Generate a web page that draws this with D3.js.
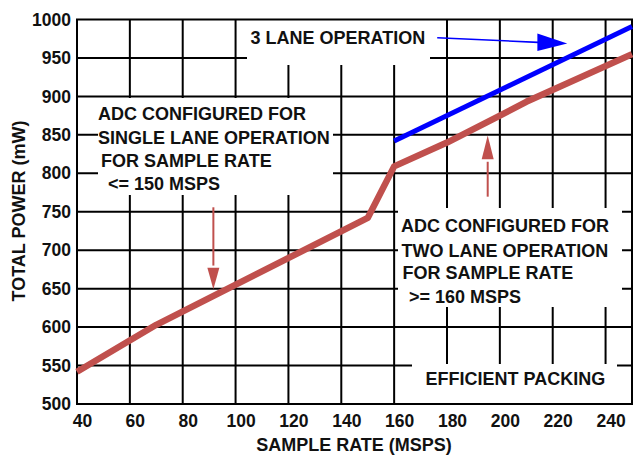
<!DOCTYPE html>
<html>
<head>
<meta charset="utf-8">
<script src="https://cdn.jsdelivr.net/npm/d3@7"></script>
<style>
  html, body { margin: 0; padding: 0; background: #fff; }
  svg { display: block; }
  text { font-family: "Liberation Sans", Arial, Helvetica, sans-serif; font-weight: bold; fill: #111; }
</style>
</head>
<body>
<svg id="chart" width="633" height="460"></svg>
<script>
// ---- data ----
const twoLaneRate  = [40, 70, 150, 160, 180, 200, 210, 250];
const twoLanePower = [542, 603, 742, 809, 840, 875, 893, 955];
const threeLaneRate  = [160, 250];
const threeLanePower = [842, 991];
const xTicks = [40, 60, 80, 100, 120, 140, 160, 180, 200, 220, 240];
const yTicks = [500, 550, 600, 650, 700, 750, 800, 850, 900, 950, 1000];
const xTitle = "SAMPLE RATE (MSPS)";
const yTitle = "TOTAL POWER (mW)";
const noteSingle = ["ADC CONFIGURED FOR", "SINGLE LANE OPERATION", "FOR SAMPLE RATE", "<= 150 MSPS"];
const noteTwo = ["ADC CONFIGURED FOR", "TWO LANE OPERATION", "FOR SAMPLE RATE", ">= 160 MSPS"];
const noteThree = "3 LANE OPERATION";
const notePacking = "EFFICIENT PACKING";

const RED = "#c0504d", BLUE = "#0000ff";
const svg = d3.select("#chart");
const x = d3.scaleLinear().domain([40, 250]).range([77, 632]);
const y = d3.scaleLinear().domain([500, 1000]).range([404, 19.5]);

// grid
const grid = svg.append("g").attr("stroke", "#000").attr("stroke-width", 2);
grid.selectAll("line.v").data(xTicks.slice(1)).join("line")
  .attr("x1", d => x(d)).attr("x2", d => x(d)).attr("y1", y(1000)).attr("y2", y(500));
grid.selectAll("line.h").data(yTicks.slice(1, -1)).join("line")
  .attr("y1", d => y(d)).attr("y2", d => y(d)).attr("x1", x(40)).attr("x2", x(250));

// white label boxes that hide the grid
const boxes = [
  {x0: 247, y0: 20, x1: 430, y1: 65},
  {x0: 98, y0: 98, x1: 333, y1: 195},
  {x0: 398, y0: 208, x1: 622, y1: 307},
  {x0: 412, y0: 364, x1: 617, y1: 404}
];
svg.append("g").selectAll("rect").data(boxes).join("rect")
  .attr("x", d => d.x0).attr("y", d => d.y0)
  .attr("width", d => d.x1 - d.x0).attr("height", d => d.y1 - d.y0)
  .attr("fill", "#fff");

// frame
svg.append("rect").attr("x", x(40)).attr("y", y(1000))
  .attr("width", x(250) - x(40)).attr("height", y(500) - y(1000))
  .attr("fill", "none").attr("stroke", "#000").attr("stroke-width", 2);

// axes labels
const xa = svg.append("g").attr("transform", `translate(5,${y(500)})`)
  .call(d3.axisBottom(x).tickValues(xTicks).tickSize(0).tickPadding(11).tickFormat(d3.format("d")));
xa.select(".domain").remove();
const ya = svg.append("g").attr("transform", `translate(${x(40)},0)`)
  .call(d3.axisLeft(y).tickValues(yTicks).tickSize(0).tickPadding(6).tickFormat(d3.format("d")));
ya.select(".domain").remove();
svg.selectAll(".tick text").style("font-size", "17.5px")
  .style("font-family", "'Liberation Sans', Arial, sans-serif").style("font-weight", "bold").attr("fill", "#111");

svg.append("text").attr("x", 354).attr("y", 451).attr("text-anchor", "middle")
  .style("font-size", "18px").text(xTitle);
svg.append("text").attr("transform", "translate(25,211) rotate(-90)").attr("text-anchor", "middle")
  .style("font-size", "18px").text(yTitle);

// data lines
const line = d3.line().x(d => x(d[0])).y(d => y(d[1]));
svg.append("path").datum(twoLaneRate.map((r, i) => [r, twoLanePower[i]]))
  .attr("d", line).attr("fill", "none").attr("stroke", RED).attr("stroke-width", 6.5)
  .attr("stroke-linejoin", "round");
svg.append("path").datum(threeLaneRate.map((r, i) => [r, threeLanePower[i]]))
  .attr("d", line).attr("fill", "none").attr("stroke", BLUE).attr("stroke-width", 5);

// annotation text
function block(lines, xs, ys) {
  const t = svg.append("g");
  lines.forEach((s, i) => t.append("text").attr("x", xs[i]).attr("y", ys[i]).style("font-size", "18px").text(s));
}
block(noteSingle, [98, 98, 101, 108], [119.5, 144, 166.5, 189.5]);
block(noteTwo, [401, 401.5, 402.5, 409], [231.5, 256.5, 278.5, 302.5]);
svg.append("text").attr("x", 250.5).attr("y", 43.5).style("font-size", "18px").text(noteThree);
svg.append("text").attr("x", 425.5).attr("y", 384.5).style("font-size", "18px").text(notePacking);

// arrows (in data coordinates)
// blue arrow
svg.append("line").attr("x1", x(176.3)).attr("y1", y(976.3)).attr("x2", x(214.5)).attr("y2", y(970.3))
  .attr("stroke", BLUE).attr("stroke-width", 1.6);
svg.append("path").attr("d", d3.line()([[x(214.2), y(981.8)], [x(225.5), y(968.8)], [x(214.2), y(959.0)]]) + "Z")
  .attr("fill", BLUE);
// red down arrow
svg.append("line").attr("x1", x(91.6)).attr("y1", y(755.8)).attr("x2", x(91.6)).attr("y2", y(680))
  .attr("stroke", RED).attr("stroke-width", 2);
svg.append("path").attr("d", d3.line()([[x(91.6) - 6, y(677.2)], [x(91.6), y(649.2)], [x(91.6) + 6, y(677.2)]]) + "Z")
  .attr("fill", RED);
// red up arrow
svg.append("line").attr("x1", x(195.4)).attr("y1", y(769.6)).attr("x2", x(195.4)).attr("y2", y(815))
  .attr("stroke", RED).attr("stroke-width", 2);
svg.append("path").attr("d", d3.line()([[x(195.4) - 6, y(818.2)], [x(195.4), y(849.2)], [x(195.4) + 6, y(818.2)]]) + "Z")
  .attr("fill", RED);
</script>
</body>
</html>
